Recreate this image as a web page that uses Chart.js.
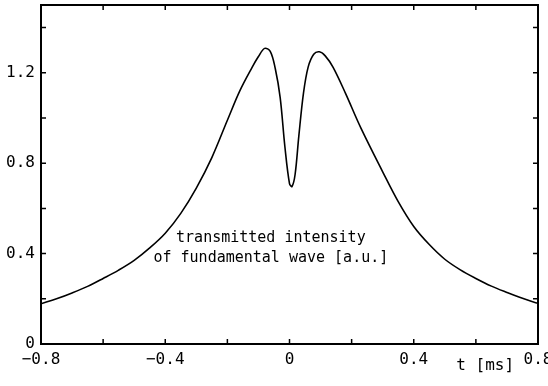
<!DOCTYPE html>
<html>
<head>
<meta charset="utf-8">
<script src="https://cdn.jsdelivr.net/npm/chart.js@4.4.1/dist/chart.umd.min.js"></script>
<style>
  html, body { margin: 0; padding: 0; background: #fff; }
  #wrap { width: 548px; height: 386px; }
</style>
</head>
<body>
<div id="wrap"><canvas id="transChart" width="548" height="386"></canvas></div>
<script>
// time axis [ms] and transmitted intensity [a.u.]
const tValues = [
  -0.8, -0.75, -0.7, -0.65, -0.6, -0.55, -0.5, -0.45, -0.4, -0.35, -0.3,
  -0.25, -0.2, -0.16, -0.12, -0.1, -0.08, -0.062, -0.046, -0.03, -0.015,
  0.0, 0.008, 0.018, 0.03, 0.045, 0.06, 0.078, 0.096, 0.115, 0.14, 0.18,
  0.23, 0.3, 0.35, 0.4, 0.45, 0.5, 0.55, 0.6, 0.65, 0.7, 0.75, 0.8
];
const intensity = [
  0.178, 0.2, 0.226, 0.255, 0.29, 0.327, 0.37, 0.425, 0.49, 0.578, 0.69,
  0.825, 0.99, 1.12, 1.225, 1.272, 1.308, 1.295, 1.22, 1.09, 0.875,
  0.71, 0.697, 0.75, 0.92, 1.11, 1.225, 1.282, 1.293, 1.275, 1.225, 1.11,
  0.955, 0.762, 0.63, 0.52, 0.44, 0.375, 0.328, 0.29, 0.256, 0.228, 0.202, 0.18
];

const xLabels = [-0.8, -0.4, 0, 0.4, 0.8];
const yLabels = [0, 0.4, 0.8, 1.2];
const annotationLines = ['transmitted intensity', 'of fundamental wave [a.u.]'];
const xAxisTitle = 't [ms]';

const FONT = '"DejaVu Sans Mono", "Liberation Mono", monospace';

function fmt(v) {
  const r = Math.round(v * 10) / 10;
  if (r === 0) return '0';
  return (r < 0 ? '\u2212' : '') + Math.abs(r).toFixed(1);
}

function isLabelled(list, v) {
  return list.some(l => Math.abs(l - v) < 1e-6);
}

// frame, inward tick marks and free text
const framePlugin = {
  id: 'frame',
  afterDraw(chart) {
    const { ctx, chartArea: a, scales } = chart;
    const x = scales.x, y = scales.y;
    ctx.save();
    ctx.strokeStyle = '#000';
    ctx.lineWidth = 2;
    ctx.strokeRect(a.left, a.top, a.right - a.left, a.bottom - a.top);

    ctx.lineWidth = 1.5;
    ctx.beginPath();
    x.ticks.forEach(t => {
      if (t.value <= x.min + 1e-6 || t.value >= x.max - 1e-6) return;
      const px = x.getPixelForValue(t.value);
      ctx.moveTo(px, a.bottom); ctx.lineTo(px, a.bottom - 5);
      ctx.moveTo(px, a.top); ctx.lineTo(px, a.top + 5);
    });
    y.ticks.forEach(t => {
      if (t.value <= y.min + 1e-6 || t.value >= y.max - 1e-6) return;
      const py = y.getPixelForValue(t.value);
      ctx.moveTo(a.left, py); ctx.lineTo(a.left + 5, py);
      ctx.moveTo(a.right, py); ctx.lineTo(a.right - 5, py);
    });
    ctx.stroke();

    ctx.fillStyle = '#000';
    ctx.font = '15px ' + FONT;
    ctx.textAlign = 'center';
    ctx.textBaseline = 'middle';
    const cx = x.getPixelForValue(-0.06);
    ctx.fillText(annotationLines[0], cx, y.getPixelForValue(0.47));
    ctx.fillText(annotationLines[1], cx, y.getPixelForValue(0.378));

    ctx.font = '16px ' + FONT;
    ctx.fillText(xAxisTitle, x.getPixelForValue(0.63), a.bottom + 22);
    ctx.restore();
  }
};

new Chart(document.getElementById('transChart'), {
  type: 'line',
  data: {
    datasets: [{
      data: tValues.map((t, i) => ({ x: t, y: intensity[i] })),
      borderColor: '#000',
      borderWidth: 1.6,
      pointRadius: 0,
      fill: false,
      tension: 0.35
    }]
  },
  options: {
    responsive: false,
    animation: false,
    layout: { padding: { top: 5, right: 10, left: 0, bottom: 0 } },
    plugins: { legend: { display: false }, tooltip: { enabled: false } },
    scales: {
      x: {
        type: 'linear',
        min: -0.8,
        max: 0.8,
        grid: { display: false, drawTicks: false },
        border: { display: false },
        ticks: {
          stepSize: 0.2,
          maxRotation: 0,
          autoSkip: false,
          padding: 6,
          color: '#000',
          font: { family: FONT, size: 16 },
          callback: v => isLabelled(xLabels, Math.round(v * 10) / 10) ? fmt(v) : ''
        },
        afterFit(scale) {
          scale.height = 42;
          scale.paddingLeft = 0;
          scale.paddingRight = 0;
        }
      },
      y: {
        min: 0,
        max: 1.5,
        grid: { display: false, drawTicks: false },
        border: { display: false },
        ticks: {
          stepSize: 0.2,
          autoSkip: false,
          padding: 6,
          color: '#000',
          font: { family: FONT, size: 16 },
          callback: v => isLabelled(yLabels, Math.round(v * 10) / 10) ? fmt(v) : ''
        },
        afterFit(scale) {
          scale.width = 41;
          scale.paddingTop = 0;
          scale.paddingBottom = 0;
        }
      }
    }
  },
  plugins: [framePlugin]
});
</script>
</body>
</html>
